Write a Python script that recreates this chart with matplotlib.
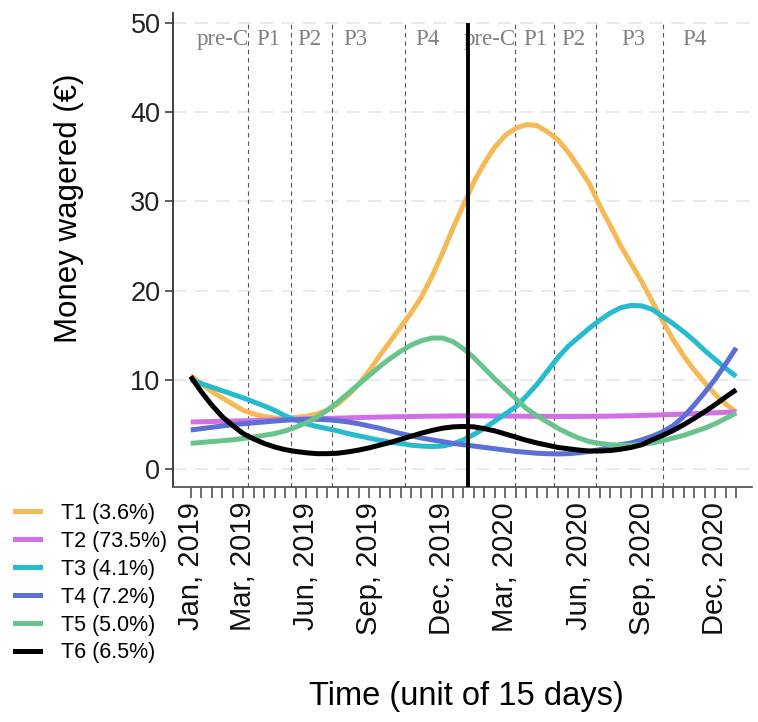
import numpy as np
import matplotlib
matplotlib.use("Agg")
import matplotlib.pyplot as plt
from matplotlib.lines import Line2D

plt.rcParams['font.family'] = ['Liberation Sans', 'DejaVu Sans']

#%% Data (one value per 15-day unit)
units = np.arange(53)

t1 = [10.5, 9.6, 8.7, 8.0, 7.3, 6.6, 6.2, 5.9, 5.75, 5.7,
      5.8, 5.95, 6.2, 6.6, 7.3, 8.3, 9.5, 11.0, 12.7, 14.3,
      15.9, 17.5, 19.3, 21.6, 24.2, 27.0, 29.6, 32.2, 34.3, 36.1,
      37.4, 38.2, 38.6, 38.5, 37.8, 36.9, 35.5, 33.8, 32.0, 29.5,
      27.3, 25.0, 23.0, 21.0, 18.8, 16.6, 14.5, 12.7, 11.1, 9.7,
      8.4, 7.3, 6.4]
t2 = [5.3, 5.32, 5.35, 5.38, 5.4, 5.43, 5.46, 5.5, 5.53, 5.56,
      5.6, 5.63, 5.66, 5.7, 5.73, 5.76, 5.79, 5.82, 5.85, 5.87,
      5.89, 5.91, 5.93, 5.95, 5.96, 5.97, 5.98, 5.98, 5.98, 5.97,
      5.96, 5.95, 5.94, 5.93, 5.93, 5.92, 5.92, 5.92, 5.93, 5.94,
      5.96, 5.98, 6.0, 6.03, 6.06, 6.1, 6.14, 6.18, 6.23, 6.28,
      6.33, 6.38, 6.43]
t3 = [10.0, 9.6, 9.2, 8.8, 8.4, 8.0, 7.55, 7.1, 6.6, 6.0,
      5.5, 5.1, 4.8, 4.55, 4.3, 4.0, 3.75, 3.5, 3.25, 3.05,
      2.9, 2.7, 2.6, 2.55, 2.6, 2.85, 3.3, 3.9, 4.6, 5.4,
      6.2, 7.0, 8.2, 9.5, 11.0, 12.5, 13.8, 14.8, 15.8, 16.7,
      17.5, 18.1, 18.35, 18.3, 17.9, 17.1, 16.3, 15.4, 14.4, 13.3,
      12.3, 11.3, 10.4]
t4 = [4.4, 4.55, 4.7, 4.85, 5.0, 5.1, 5.2, 5.3, 5.4, 5.5,
      5.55, 5.6, 5.6, 5.55, 5.45, 5.3, 5.1, 4.85, 4.6, 4.3,
      4.0, 3.75, 3.5, 3.3, 3.1, 2.9, 2.75, 2.6, 2.45, 2.3,
      2.15, 2.0, 1.9, 1.8, 1.75, 1.72, 1.75, 1.85, 2.0, 2.2,
      2.45, 2.75, 2.95, 3.3, 3.7, 4.2, 4.9, 5.9, 7.2, 8.6,
      10.1, 11.8, 13.6]
t5 = [2.9, 3.0, 3.1, 3.2, 3.3, 3.45, 3.6, 3.8, 4.0, 4.3,
      4.7, 5.2, 5.8, 6.6, 7.5, 8.5, 9.5, 10.5, 11.5, 12.4,
      13.2, 13.9, 14.4, 14.7, 14.7, 14.3, 13.5, 12.5, 11.3, 10.1,
      9.0, 7.9, 6.8, 6.0, 5.3, 4.6, 4.0, 3.5, 3.1, 2.9,
      2.75, 2.7, 2.7, 2.8, 2.95, 3.2, 3.5, 3.8, 4.2, 4.6,
      5.1, 5.7, 6.3]
t6 = [10.4, 8.7, 7.2, 5.9, 4.9, 4.0, 3.4, 2.9, 2.5, 2.2,
      2.0, 1.85, 1.75, 1.75, 1.8, 1.95, 2.15, 2.4, 2.7, 3.0,
      3.35, 3.7, 4.05, 4.35, 4.6, 4.75, 4.8, 4.75, 4.55, 4.3,
      3.95, 3.6, 3.25, 2.95, 2.7, 2.45, 2.3, 2.15, 2.05, 2.05,
      2.1, 2.25, 2.45, 2.75, 3.3, 3.8, 4.35, 5.0, 5.7, 6.45,
      7.25, 8.1, 8.9]

series_labels = ["T1 (3.6%)", "T2 (73.5%)", "T3 (4.1%)", "T4 (7.2%)", "T5 (5.0%)", "T6 (6.5%)"]
series_colors = ["#F5B955", "#D26EE6", "#26BBCF", "#5B70D6", "#68C38D", "#000000"]

tick_units = [0, 5, 11, 17, 24, 30, 37, 43, 50]
tick_labels = ["Jan, 2019", "Mar, 2019", "Jun, 2019", "Sep, 2019", "Dec, 2019",
               "Mar, 2020", "Jun, 2020", "Sep, 2020", "Dec, 2020"]

period_bounds = [5.5, 9.55, 13.5, 20.45, 30.9, 34.65, 38.6, 45.05]
year_split = 26.4
period_names = ["pre-C", "P1", "P2", "P3", "P4", "pre-C", "P1", "P2", "P3", "P4"]
period_pos = [3.0, 7.4, 11.3, 15.7, 22.6, 28.45, 32.85, 36.45, 42.2, 48.0]

#%% Figure
fig = plt.figure(figsize=(7.58, 7.22), dpi=100)
ax = fig.add_axes([0.2282, 0.3259, 0.7635, 0.6561])

ax.set_xlim(-1.69, 53.48)
ax.set_ylim(-1.95, 51.1)

for y in [0, 10, 20, 30, 40, 50]:
    ax.axhline(y, color="#e6e6e6", lw=1.2, dashes=(8, 5), zorder=0)

for xb in period_bounds:
    ax.plot([xb, xb], [-1.95, 50.2], color="#555555", lw=0.8, dashes=(4, 3.5), zorder=1)

for vals, col in zip([t1, t2, t3, t4, t5, t6], series_colors):
    ax.plot(units, vals, color=col, lw=3.6, solid_capstyle="butt", zorder=3)

ax.plot([year_split, year_split], [-1.95, 49.7], color="black", lw=2.8, zorder=4)

for name, xp in zip(period_names, period_pos):
    ax.text(xp, 48.1, name, ha="center", va="center", color="#808080",
            fontsize=16.5, family=["Liberation Serif", "DejaVu Serif"])

for s in ["top", "right"]:
    ax.spines[s].set_visible(False)
ax.spines["left"].set_color("#333333")
ax.spines["left"].set_linewidth(1.3)
ax.spines["bottom"].set_color("#555555")
ax.spines["bottom"].set_linewidth(1.3)

ax.set_yticks([0, 10, 20, 30, 40, 50])
ax.tick_params(axis="y", length=6, width=1.1, color="#333333", labelsize=19.5, labelcolor="#222222", pad=3)
ax.set_xticks(tick_units)
ax.set_xticklabels(tick_labels, rotation=90, va="top", ha="center")
ax.set_xticks(units, minor=True)
ax.tick_params(axis="x", which="both", length=8, width=1.1, color="#444444", labelsize=21,
               labelcolor="#111111", pad=3)

fig.text(69 / 758, 1 - 208 / 722, "Money wagered (€)", rotation=90, ha="center", va="center", fontsize=22.5)
fig.text(466 / 758, 1 - 697 / 722, "Time (unit of 15 days)", ha="center", va="center", fontsize=23.5)

handles = [Line2D([0], [0], color=c, lw=3.6) for c in series_colors]
fig.legend(handles, series_labels, loc="upper left", bbox_to_anchor=(15 / 758, 1 - 503 / 722),
           frameon=False, fontsize=15.5, handlelength=1.15, handletextpad=1.0,
           labelspacing=0.32, borderpad=0, borderaxespad=0)

fig.savefig("out.png", dpi=100)
